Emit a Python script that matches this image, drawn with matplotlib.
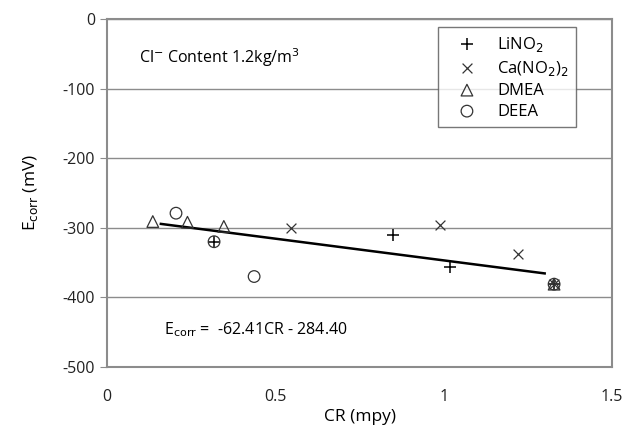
import numpy as np
import matplotlib
matplotlib.use("Agg")
import matplotlib.pyplot as plt

plt.rcParams['font.family'] = ['Open Sans', 'DejaVu Sans']
plt.rcParams['axes.unicode_minus'] = False

# data
lino2_cr = [0.318, 0.850, 1.019, 1.328]
lino2_e = [-320, -311, -357, -381]
cano2_cr = [0.547, 0.989, 1.222, 1.328]
cano2_e = [-301, -296, -337, -381]
dmea_cr = [0.136, 0.239, 0.347, 1.328]
dmea_e = [-291, -292, -298, -381]
deea_cr = [0.205, 0.318, 0.437, 1.328]
deea_e = [-279, -320, -370, -381]

fit_slope = -62.41
fit_icpt = -284.40
fit_cr = [0.16, 1.30]

fig = plt.figure(figsize=(6.4, 4.32), dpi=100)
ax = fig.add_axes([107/640, 1 - 367/432, 505/640, 348/432])

gray = '#8c8c8c'
ax.scatter(lino2_cr, lino2_e, marker='+', s=70, c='black', linewidths=1.1, label='LiNO$_2$', zorder=3)
ax.scatter(cano2_cr, cano2_e, marker='x', s=50, c='#333333', linewidths=0.9, label='Ca(NO$_2$)$_2$', zorder=3)
ax.scatter(dmea_cr, dmea_e, marker='^', s=70, facecolors='none', edgecolors='#333333', linewidths=0.9, label='DMEA', zorder=3)
ax.scatter(deea_cr, deea_e, marker='o', s=70, facecolors='none', edgecolors='#333333', linewidths=0.9, label='DEEA', zorder=3)

fx = np.array(fit_cr)
ax.plot(fx, fit_slope * fx + fit_icpt, color='black', lw=1.8, zorder=2)

ax.set_xlim(0, 1.5)
ax.set_ylim(-500, 0)
ax.set_xticks([0, 0.5, 1, 1.5])
ax.set_xticklabels(['0', '0.5', '1', '1.5'])
ax.set_yticks(range(-500, 1, 100))
ax.yaxis.grid(True, color=gray, lw=1)
ax.set_axisbelow(True)
for s in ax.spines.values():
    s.set_color(gray)
    s.set_linewidth(1.5)
ax.tick_params(axis='y', colors=gray, length=5, labelcolor='#222222', labelsize=11.5)
ax.tick_params(axis='x', length=0, pad=16, labelcolor='#222222', labelsize=11.5)

ax.set_xlabel('CR (mpy)', fontsize=12.5, labelpad=3)
ax.set_ylabel('E$_{\\mathrm{corr}}$ (mV)', fontsize=12.5, labelpad=16)

ax.text(0.095, -55, 'Cl$^{-}$ Content 1.2kg/m$^3$', fontsize=11.5, va='center')
ax.text(0.17, -447, 'E$_{\\mathrm{corr}}$ =  -62.41CR - 284.40', fontsize=11.5, va='center')

leg = ax.legend(loc='upper left', bbox_to_anchor=(0.655, 0.977), fontsize=12, frameon=True,
                fancybox=False, edgecolor='#555555', handletextpad=0.5, labelspacing=0.3,
                borderpad=0.45, handlelength=2.6, borderaxespad=0)
leg.get_frame().set_linewidth(1.0)

fig.savefig('out.png', dpi=100)
